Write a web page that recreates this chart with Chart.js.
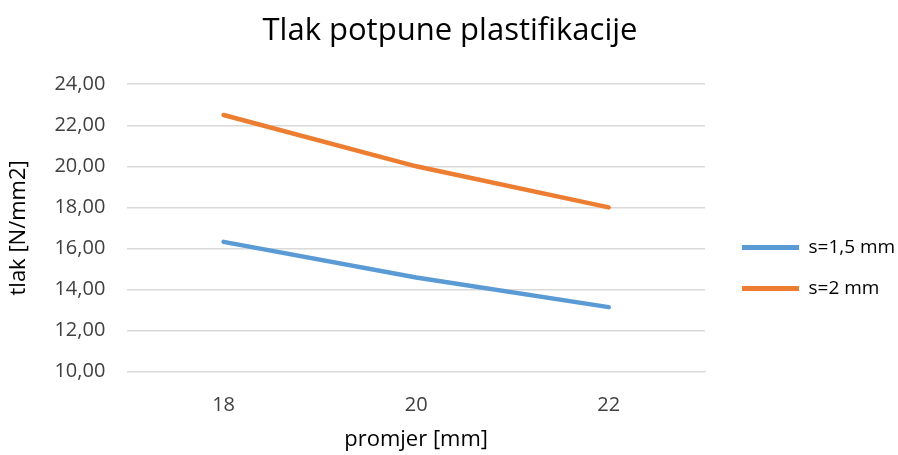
<!DOCTYPE html>
<html>
<head>
<meta charset="utf-8">
<script src="https://cdn.jsdelivr.net/npm/chart.js@4"></script>
<style>
  html, body { margin: 0; padding: 0; background: #fff; }
  #wrap { width: 898px; height: 455px; }
</style>
</head>
<body>
<div id="wrap"><canvas id="chart" width="898" height="455"></canvas></div>
<script>
const promjer = ['18', '20', '22'];
const tlakS15 = [16.32, 14.58, 13.14];
const tlakS2 = [22.5, 20.0, 18.0];
const seriesNames = ['s=1,5 mm', 's=2 mm'];

const font = "'Open Sans', 'Noto Sans', sans-serif";

// excel leaves a wider gap between plot and legend than chart.js does,
// so the legend box gets a fixed width and its items are nudged right
const legendWidth = 193;
const legendShift = 15;

const legendGap = {
    id: 'legendGap',
    afterInit(c) {
        const lg = c.legend;
        const fit = lg.fit;
        const draw = lg.draw;
        lg.fit = function () {
            fit.call(this);
            this.width = legendWidth;
        };
        lg.draw = function () {
            this.left += legendShift;
            draw.call(this);
            this.left -= legendShift;
        };
    }
};

let chart = new Chart(document.getElementById('chart'), {
    type: 'line',
    data: {
        labels: promjer,
        datasets: [{
            label: seriesNames[0],
            data: tlakS15,
            borderColor: '#5B9BD5',
            backgroundColor: '#5B9BD5',
            borderWidth: 4.5,
            borderCapStyle: 'round',
            pointRadius: 0,
            tension: 0
        },
        {
            label: seriesNames[1],
            data: tlakS2,
            borderColor: '#ED7D31',
            backgroundColor: '#ED7D31',
            borderWidth: 4.5,
            borderCapStyle: 'round',
            pointRadius: 0,
            tension: 0
        }]
    },
    plugins: [legendGap],
    options: {
        responsive: false,
        animation: false,
        devicePixelRatio: 1,
        layout: {
            padding: { top: 10, left: 2, right: 0, bottom: 2 }
        },
        plugins: {
            title: {
                display: true,
                text: 'Tlak potpune plastifikacije',
                color: '#000',
                font: { family: font, size: 31, weight: 'normal' },
                padding: { top: 3, bottom: 34 }
            },
            legend: {
                position: 'right',
                title: {
                    // empty title just to push the items a bit lower, like excel does
                    display: true,
                    text: ' ',
                    font: { size: 1 },
                    padding: 36
                },
                labels: {
                    color: '#000',
                    font: { family: font, size: 19 },
                    boxWidth: 57,
                    boxHeight: 5,
                    padding: 22,
                    generateLabels: (c) => {
                        const items = Chart.defaults.plugins.legend.labels.generateLabels(c);
                        items.forEach(it => { it.lineWidth = 0; });
                        return items;
                    }
                }
            },
            tooltip: {
                enabled: false
            }
        },
        scales: {
            x: {
                offset: true,
                grid: { display: false },
                border: { color: '#d9d9d9' },
                ticks: {
                    color: '#404040',
                    font: { family: font, size: 20 },
                    padding: 14
                },
                title: {
                    display: true,
                    text: 'promjer [mm]',
                    color: '#000',
                    font: { family: font, size: 22 },
                    padding: { top: -5, bottom: 0 }
                }
            },
            y: {
                min: 10,
                max: 24,
                grid: { color: '#d9d9d9', lineWidth: 1.5, drawTicks: false },
                border: { display: false },
                ticks: {
                    stepSize: 2,
                    color: '#404040',
                    font: { family: font, size: 20 },
                    padding: 22,
                    callback: (v) => v.toFixed(2).replace('.', ',')
                },
                title: {
                    display: true,
                    text: 'tlak [N/mm2]',
                    color: '#000',
                    font: { family: font, size: 22 },
                    padding: { bottom: 0 }
                }
            }
        }
    }
});
</script>
</body>
</html>
